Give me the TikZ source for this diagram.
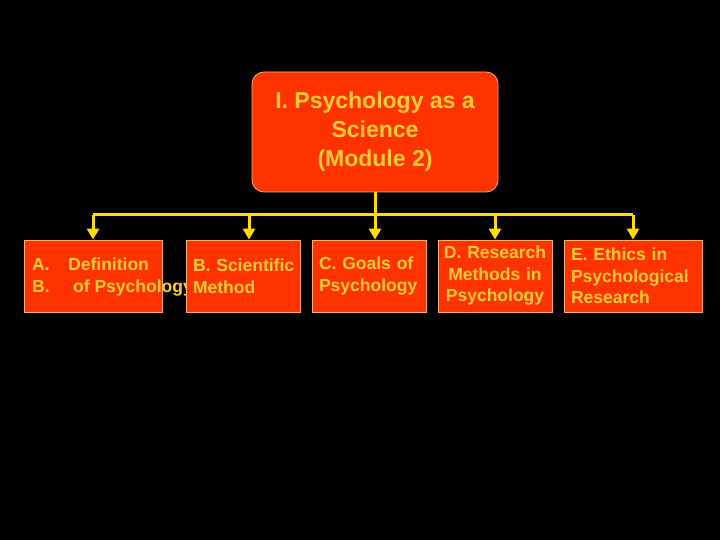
\documentclass[tikz,border=0pt]{standalone}
\usepackage{fontspec}
\setmainfont{Liberation Sans}
\usetikzlibrary{arrows.meta,positioning}
\definecolor{boxred}{RGB}{255,51,0}
\definecolor{textyellow}{RGB}{255,204,51}
\definecolor{lineyellow}{RGB}{255,221,0}
\definecolor{edgeorange}{RGB}{255,170,110}
\hyphenpenalty=10000
\exhyphenpenalty=10000

\begin{document}
\begin{tikzpicture}[
  x=1pt, y=-1pt,
  topbox/.style={
    draw=edgeorange,
    fill=boxred,
    line width=0.8pt,
    rounded corners=12pt,
    minimum width=246pt,
    minimum height=120pt,
    align=center,
    text=textyellow,
    font=\bfseries\fontsize{23}{29}\selectfont
  },
  subbox/.style={
    draw=edgeorange,
    fill=boxred,
    line width=0.8pt,
    minimum height=72pt,
    inner xsep=7pt,
    inner ysep=0pt,
    text=textyellow,
    font=\bfseries\fontsize{17.5}{21.5}\selectfont
  },
  subtext/.style={
    text=textyellow,
    inner sep=0pt,
    align=left,
    font=\bfseries\fontsize{17.5}{21.5}\selectfont
  },
  line/.style={line width=3pt, draw=lineyellow},
  drop/.style={line width=3pt, draw=lineyellow, -{Triangle[length=11pt, width=12pt]}}
]

% background
\fill[black] (0,0) rectangle (720,540);
\useasboundingbox (0,0) rectangle (720,540);

% ===== Top =====
\node[topbox] (psy) at (375,132) {I. Psychology as a\\Science\\(Module 2)};

% ===== Sub-topics =====
\node[subbox, minimum width=138pt] (defn) at (93,276) {};
\node[subtext, anchor=west] (defntext) at (32,277)
  {\makebox[36pt][l]{A.}Definition\\\makebox[41pt][l]{B.}of Psychology};
\node[subbox, text width=100pt, align=left] (sci) at (243,276) {B.~Scientific\\Method};
\node[subbox, text width=100pt, align=left] (goals) at (369,276) {C.~Goals~of\\Psychology};
\node[subbox, text width=104pt, inner xsep=5pt, align=center] (meth) at (495,276) {D.~Research\\Methods~in\\Psychology};
\node[subbox, text width=124pt, align=left] (ethics) at (633,276) {E.~Ethics~in\\Psychological\\Research};

% ===== Connectors =====
\coordinate (bus) at (375,215);
\coordinate (scidrop) at ([xshift=6pt]sci.north);
\coordinate (goalsdrop) at (psy.south |- goals.north);
\draw[line] (psy.south) -- (bus);
\draw[line] (defn.north |- bus) -- (ethics.north |- bus);
\draw[drop] (defn.north |- bus) -- (defn.north);
\draw[drop] (scidrop |- bus) -- (scidrop);
\draw[drop] (goalsdrop |- bus) -- (goalsdrop);
\draw[drop] (meth.north |- bus) -- (meth.north);
\draw[drop] (ethics.north |- bus) -- (ethics.north);

\end{tikzpicture}
\end{document}
